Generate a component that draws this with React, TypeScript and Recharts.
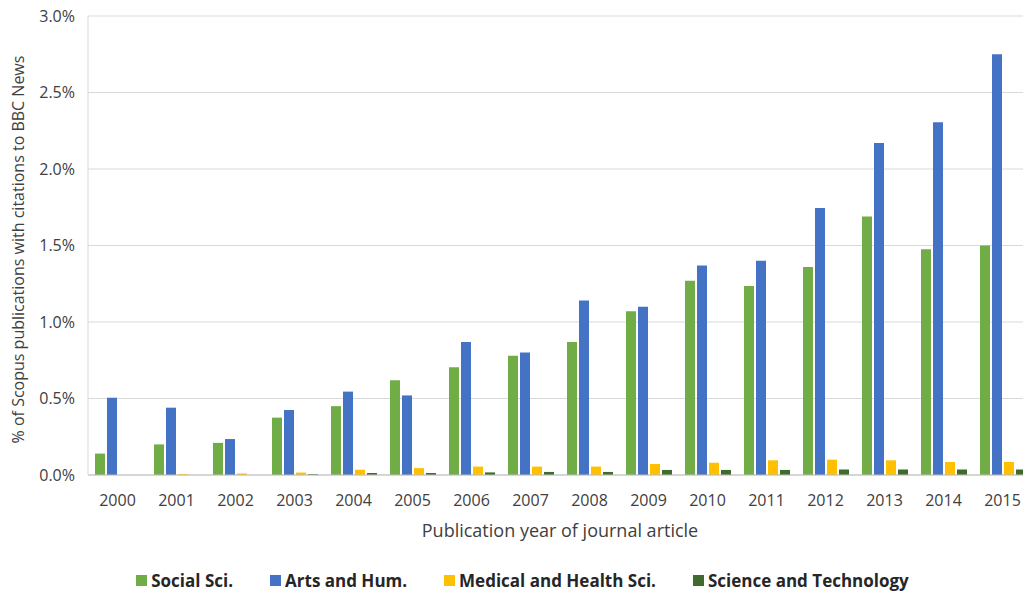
import React from "react";
import { BarChart, Bar, XAxis, YAxis, CartesianGrid, Legend } from "recharts";

const years = ["2000","2001","2002","2003","2004","2005","2006","2007","2008","2009","2010","2011","2012","2013","2014","2015"];
const socialSci = [0.14,0.20,0.21,0.375,0.45,0.62,0.705,0.78,0.87,1.07,1.27,1.235,1.36,1.69,1.475,1.50];
const artsHum = [0.505,0.44,0.235,0.425,0.545,0.52,0.87,0.80,1.14,1.10,1.37,1.40,1.745,2.17,2.305,2.75];
const medical = [0,0.006,0.01,0.016,0.034,0.045,0.055,0.055,0.055,0.072,0.08,0.096,0.10,0.096,0.085,0.085];
const sciTech = [0,0,0,0.005,0.013,0.013,0.017,0.02,0.02,0.033,0.033,0.033,0.036,0.036,0.036,0.036];
const yTicks = [0, 0.5, 1.0, 1.5, 2.0, 2.5, 3.0];

const series = [
  { key: "social", name: "Social Sci.", color: "#70AD47" },
  { key: "arts", name: "Arts and Hum.", color: "#4472C4" },
  { key: "medical", name: "Medical and Health Sci.", color: "#FFC000" },
  { key: "scitech", name: "Science and Technology", color: "#3F6B2C" },
];

const data = years.map((y, i) => ({
  year: y,
  social: socialSci[i],
  arts: artsHum[i],
  medical: medical[i],
  scitech: sciTech[i],
}));

const FONT = "'Open Sans', 'Noto Sans', sans-serif";

const LegendContent = () => (
  <div
    style={{
      display: "flex",
      justifyContent: "center",
      alignItems: "center",
      height: 24,
      fontFamily: FONT,
      fontWeight: 700,
      fontSize: 17,
      color: "#262626",
    }}
  >
    {series.map((s, i) => (
      <div key={s.key} style={{ display: "flex", alignItems: "center", marginLeft: i === 0 ? 0 : 37 }}>
        <div style={{ width: 11, height: 11, background: s.color, marginRight: 4 }} />
        <span>{s.name}</span>
      </div>
    ))}
  </div>
);

export default function App() {
  return (
    <div style={{ position: "fixed", left: 0, top: 0, width: 1023, height: 591, overflow: "hidden", background: "#fff" }}>
      <BarChart
        width={1032}
        height={591}
        data={data}
        margin={{ top: 16, right: 0, bottom: 0, left: 0 }}
        barSize={10}
        barGap={2}
      >
        <CartesianGrid vertical={false} stroke="#D9D9D9" />
        <XAxis
          dataKey="year"
          height={92}
          tickLine={false}
          tickMargin={14}
          axisLine={{ stroke: "#BFBFBF" }}
          tick={{ fill: "#404040", fontSize: 16, fontFamily: FONT }}
          interval={0}
          label={{
            content: (props: any) => {
              const vb = props.viewBox;
              return (
                <text
                  x={vb.x + vb.width / 2}
                  y={vb.y + 57}
                  textAnchor="middle"
                  dominantBaseline="middle"
                  fill="#404040"
                  fontSize={18}
                  fontFamily={FONT}
                >
                  Publication year of journal article
                </text>
              );
            },
          }}
        />
        <YAxis
          width={88}
          domain={[0, 3]}
          ticks={yTicks}
          tickLine={false}
          tickMargin={7}
          axisLine={{ stroke: "#D9D9D9" }}
          tickFormatter={(v: number) => `${v.toFixed(1)}%`}
          tick={{ fill: "#404040", fontSize: 16, fontFamily: FONT }}
          label={{
            content: (props: any) => {
              const vb = props.viewBox;
              const cx = 20;
              const cy = vb.y + vb.height / 2 + 4;
              return (
                <text
                  x={cx}
                  y={cy}
                  textAnchor="middle"
                  dominantBaseline="middle"
                  transform={`rotate(-90, ${cx}, ${cy})`}
                  fill="#404040"
                  fontSize={16}
                  fontFamily={FONT}
                >
                  % of Scopus publications with citations to BBC News
                </text>
              );
            },
          }}
        />
        <Legend
          verticalAlign="bottom"
          content={<LegendContent />}
          wrapperStyle={{ left: 0, width: 1045, top: 568, bottom: "auto" }}
        />
        {series.map((s) => (
          <Bar key={s.key} dataKey={s.key} name={s.name} fill={s.color} isAnimationActive={false} />
        ))}
      </BarChart>
    </div>
  );
}
